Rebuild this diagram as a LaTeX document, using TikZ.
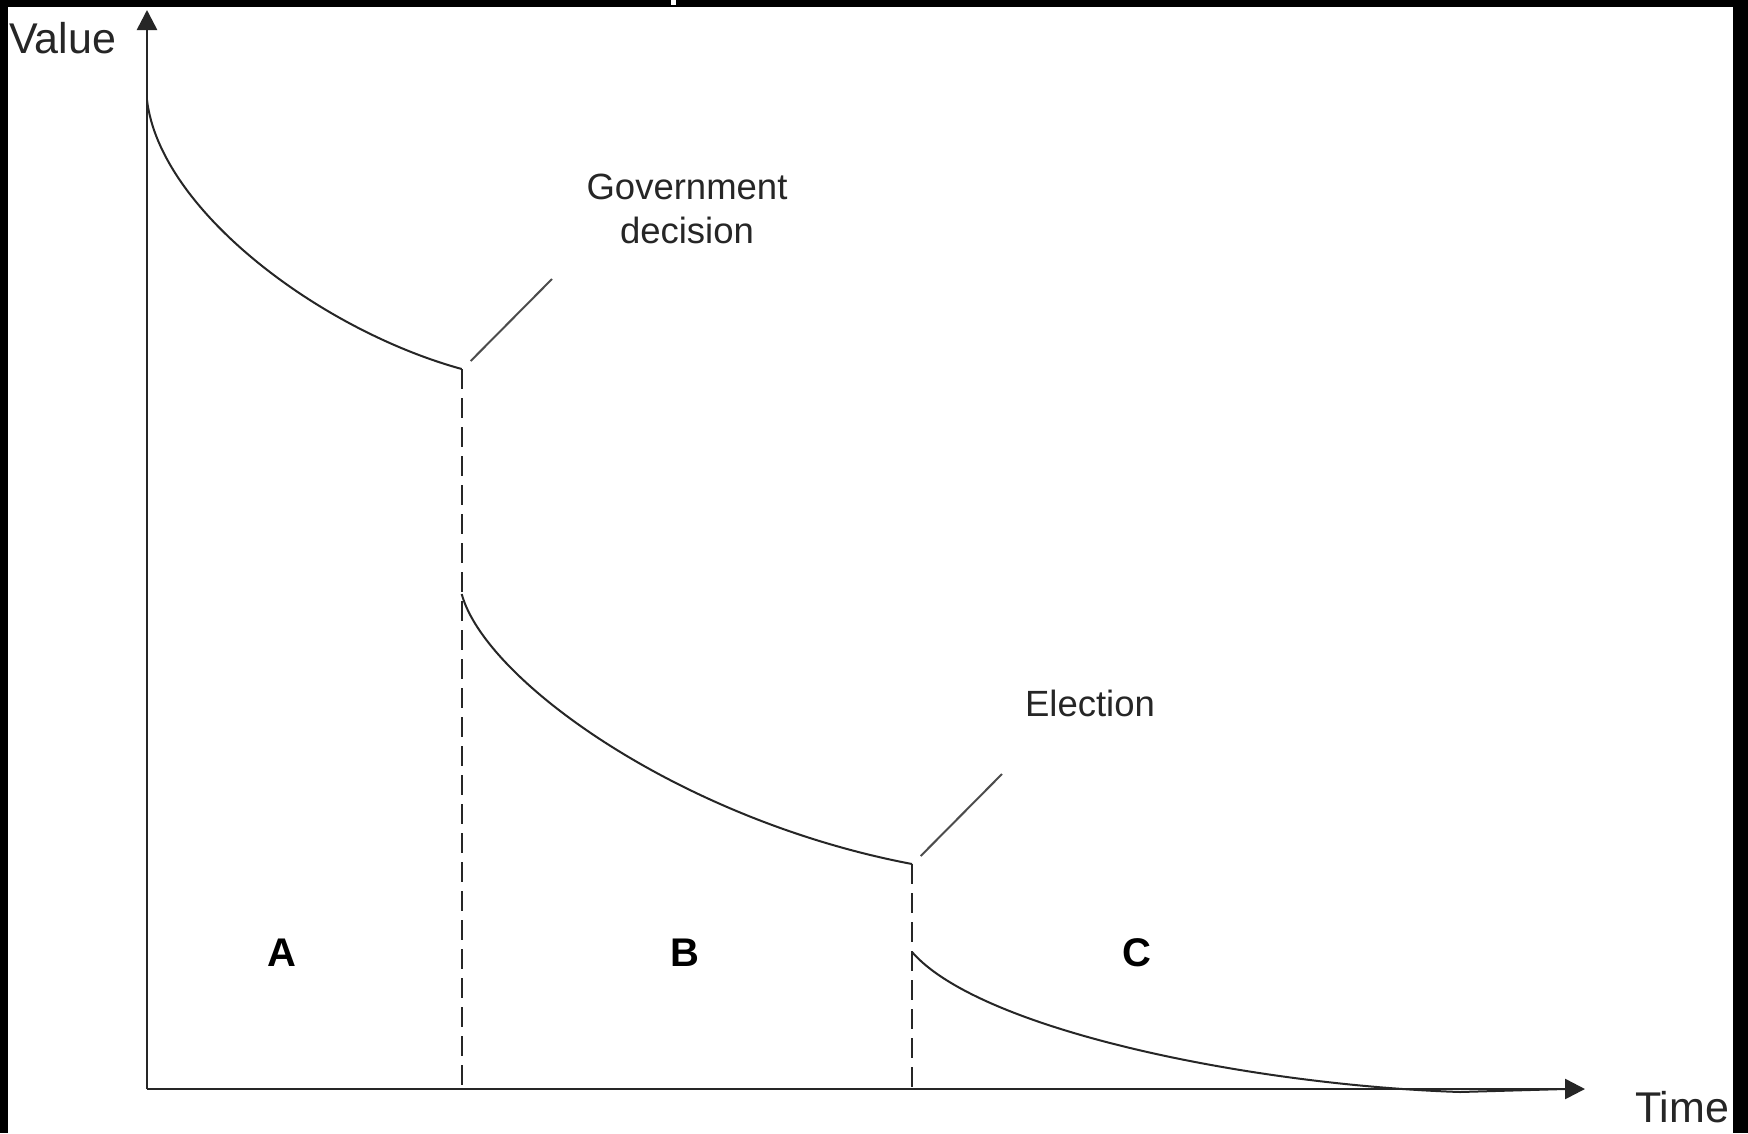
\documentclass[tikz,border=0pt]{standalone}
\usepackage{fontspec}
\setmainfont{Liberation Sans}
\usetikzlibrary{arrows.meta}
\begin{document}
\begin{tikzpicture}[x=1pt,y=-1pt,
  axis/.style={line width=2.6pt,draw=black!85,-{Triangle[length=20pt,width=20pt]}},
  curve/.style={line width=2pt,draw=black!85},
  leader/.style={line width=2pt,draw=black!70},
  guide/.style={line width=2.2pt,draw=black!85,dash pattern=on 20pt off 9pt},
  lbl/.style={font=\fontsize{36.5}{44}\selectfont,text=black!85,inner sep=0pt},
  axlbl/.style={font=\fontsize{43}{50}\selectfont,text=black!85,inner sep=0pt},
  reg/.style={font=\fontsize{40}{48}\selectfont\bfseries,text=black,inner sep=0pt}]
\useasboundingbox (0,0) rectangle (1748,1133);
\fill[white] (0,0) rectangle (1748,1133);
% black frame strips
\fill[black] (0,0) rectangle (1748,7);
\fill[black] (0,0) rectangle (7.5,1133);
\fill[black] (1733,0) rectangle (1748,1133);
\fill[white] (671,0) rectangle (676,5);
% axes
\coordinate (O) at (147,1089);
\coordinate (ytip) at (147,10);
\coordinate (xtip) at (1585,1089);
\draw[axis] (O) -- (ytip);
\draw[axis] (O) -- (xtip);
% key points
\coordinate (c1s) at (147,100);
\coordinate (c1e) at (461.7,369);
\coordinate (c2s) at (461.7,594);
\coordinate (c2e) at (912,864);
\coordinate (c3s) at (912,952);
\coordinate (c3m) at (1460,1092);
\coordinate (c3e) at (1565,1089);
\coordinate (g1) at (461.7,1089);
\coordinate (g2) at (912,1089);
% curves
\draw[curve] (c1s) .. controls (160,210) and (320,330) .. (c1e);
\draw[curve] (c2s) .. controls (485,680) and (680,820) .. (c2e);
\draw[curve] (c3s) .. controls (980,1030) and (1250,1085) .. (c3m) -- (c3e);
% dashed guides
\draw[guide] (c1e) -- (g1);
\draw[guide] (c2e) -- (g2);
% leaders
\coordinate (l1a) at (470.7,361);
\coordinate (l1b) at (552,279);
\coordinate (l2a) at (920.7,856);
\coordinate (l2b) at (1002,774);
\draw[leader] (l1a) -- (l1b);
\draw[leader] (l2a) -- (l2b);
% labels
\node[axlbl,anchor=base west] (value) at (9,53) {Value};
\node[axlbl,anchor=base west] (time) at (1635,1122) {Time};
\node[lbl,anchor=base] (gov1) at (687,199) {Government};
\node[lbl,anchor=base] (gov2) at (687,243) {decision};
\node[lbl,anchor=base] (elec) at (1090,716) {Election};
\node[reg,anchor=base] (A) at (282,966) {A};
\node[reg,anchor=base] (B) at (684.5,966) {B};
\node[reg,anchor=base] (C) at (1137,966) {C};
\end{tikzpicture}
\end{document}
